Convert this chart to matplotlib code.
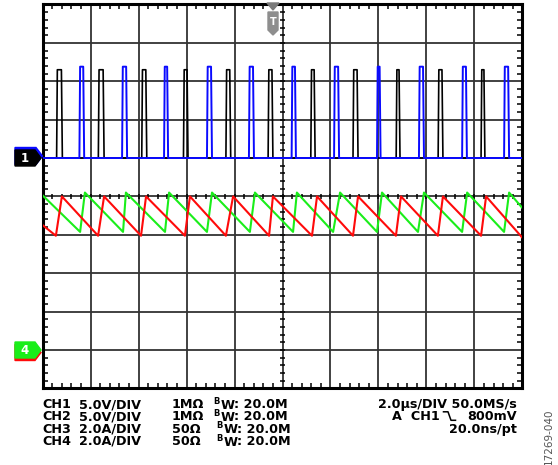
import matplotlib
matplotlib.use("Agg")
import matplotlib.pyplot as plt
from matplotlib.ticker import MultipleLocator
from matplotlib.patches import Polygon

plt.rcParams['font.family'] = ['DejaVu Sans']

# scope settings
us_per_div = 2.0
n_div = 10
ch12_scale, ch12_offset = 5.0, 1.0     # V/div, ground level in divisions
ch34_scale, ch34_offset = 2.0, -4.0    # A/div, zero level in divisions

# CH1 (black) switch pulses, rise/fall times in us, level in V
ch1_on = [0.58, 2.32, 4.13, 5.87, 7.64, 9.40, 11.18, 12.94, 14.74, 16.49, 18.28]
ch1_off = [0.82, 2.56, 4.34, 6.06, 7.84, 9.60, 11.36, 13.15, 14.90, 16.69, 18.44]
ch1_high = 11.5

# CH2 (blue) switch pulses
ch2_on = [1.53, 3.31, 5.06, 6.85, 8.60, 10.38, 12.15, 13.94, 15.69, 17.49, 19.24]
ch2_off = [1.73, 3.52, 5.23, 7.06, 8.81, 10.56, 12.36, 14.09, 15.90, 17.69, 19.45]
ch2_high = 11.9

# CH3 (red) inductor current: trough / peak times (us) and levels (A)
ch3_trough_t = [0.55, 2.31, 4.10, 5.93, 7.64, 9.44, 11.23, 12.94, 14.73, 16.48, 18.28]
ch3_peak_t = [0.80, 2.56, 4.31, 6.14, 7.94, 9.60, 11.44, 13.15, 14.94, 16.69, 18.49]
ch3_trough, ch3_peak = 5.95, 8.0
ch3_start, ch3_end = 6.5, 5.85

# CH4 (green) inductor current
ch4_trough_t = [1.56, 3.35, 5.10, 6.85, 8.64, 10.44, 12.11, 13.94, 15.65, 17.49, 19.24]
ch4_peak_t = [1.76, 3.47, 5.27, 7.06, 8.85, 10.60, 12.40, 14.15, 15.90, 17.70, 19.45]
ch4_trough, ch4_peak = 6.15, 8.2
ch4_start, ch4_end = 8.05, 7.4

# readout text
chan = ['CH1', 'CH2', 'CH3', 'CH4']
vdiv = ['5.0V/DIV', '5.0V/DIV', '2.0A/DIV', '2.0A/DIV']
imped = ['1MΩ', '1MΩ', '50Ω', '50Ω']
bw = [': 20.0M'] * 4
timebase = '2.0µs/DIV 50.0MS/s'
trig_src, trig_lvl = 'A  CH1', '800mV'
resolution = '20.0ns/pt'

t_end = us_per_div * n_div


def pulse_trace(on, off, high):
    t, v = [0.0], [0.0]
    for a, b in zip(on, off):
        t += [a, a + 0.03, b - 0.04, b]
        v += [0.0, high, high, 0.0]
    t.append(t_end)
    v.append(0.0)
    return t, v


def saw_trace(trough_t, peak_t, lo, hi, start, end):
    pts = [(0.0, start)] + [(x, lo) for x in trough_t] + [(x, hi) for x in peak_t] + [(t_end, end)]
    pts.sort()
    return [p[0] for p in pts], [p[1] for p in pts]


fig = plt.figure(figsize=(5.58, 4.65), dpi=100)
W, H = 558, 465
x0, x1, y0, y1 = 42.7, 522.3, 4.5, 388.3
ax = fig.add_axes([x0 / W, 1 - y1 / H, (x1 - x0) / W, (y1 - y0) / H])
ax.set_xlim(0, t_end)
ax.set_ylim(-5, 5)

grid_col = '#333333'
ax.xaxis.set_major_locator(MultipleLocator(us_per_div))
ax.yaxis.set_major_locator(MultipleLocator(1))
ax.xaxis.set_minor_locator(MultipleLocator(us_per_div / 5))
ax.yaxis.set_minor_locator(MultipleLocator(0.2))
ax.grid(True, which='major', color=grid_col, lw=1.3)
ax.tick_params(which='major', length=0, labelbottom=False, labelleft=False)
ax.tick_params(which='minor', direction='in', length=3.6, width=1.1, color='black',
               top=True, right=True, bottom=True, left=True)
for s in ax.spines.values():
    s.set_linewidth(2.2)
    s.set_color('black')

# ticks on the centre cross
minor_x = [i * us_per_div / 5 for i in range(1, 50)]
minor_y = [-5 + i * 0.2 for i in range(1, 50)]
ax.vlines(minor_x, -0.065, 0.065, color='black', lw=1.1, zorder=2)
ax.hlines(minor_y, t_end / 2 - 0.1, t_end / 2 + 0.1, color='black', lw=1.1, zorder=2)

# traces
t, v = pulse_trace(ch1_on, ch1_off, ch1_high)
ax.plot(t, [ch12_offset + x / ch12_scale for x in v], color='black', lw=1.2, zorder=3)
t, v = pulse_trace(ch2_on, ch2_off, ch2_high)
ax.plot(t, [ch12_offset + x / ch12_scale for x in v], color='#0a0aff', lw=1.4, zorder=4)
t, i = saw_trace(ch4_trough_t, ch4_peak_t, ch4_trough, ch4_peak, ch4_start, ch4_end)
ax.plot(t, [ch34_offset + x / ch34_scale for x in i], color='#1aee1a', lw=1.5, zorder=3)
t, i = saw_trace(ch3_trough_t, ch3_peak_t, ch3_trough, ch3_peak, ch3_start, ch3_end)
ax.plot(t, [ch34_offset + x / ch34_scale for x in i], color='#ff0a0a', lw=1.5, zorder=4)

# overlay in pixel coordinates for markers and text
ov = fig.add_axes([0, 0, 1, 1], zorder=10)
ov.set_xlim(0, W)
ov.set_ylim(H, 0)
ov.axis('off')
ov.patch.set_alpha(0)

ov.add_patch(Polygon([(15, 147.5), (36, 147.5), (42.5, 156), (36, 164.5), (15, 164.5)], color='#0a0aff'))
ov.add_patch(Polygon([(15, 150), (35, 150), (41, 158), (35, 166), (15, 166)], color='black'))
ov.text(25, 158.5, '1', color='white', fontsize=8.5, fontweight='bold', ha='center', va='center')
ov.add_patch(Polygon([(15, 344.5), (35, 344.5), (41, 352.5), (35, 360.5), (15, 360.5)], color='#ff0a0a'))
ov.add_patch(Polygon([(15, 342), (35, 342), (41, 350), (35, 358), (15, 358)], color='#1aee1a'))
ov.text(25, 350.5, '4', color='white', fontsize=8.5, fontweight='bold', ha='center', va='center')

ov.add_patch(Polygon([(267, 3), (279, 3), (273, 10)], color='#7a7a7a'))
ov.add_patch(Polygon([(268, 12), (278, 12), (278, 30), (273, 35), (268, 30)], color='#8e8e8e'))
ov.text(273, 22, 'T', color='white', fontsize=7, fontweight='bold', ha='center', va='center')

b_x = [213, 213, 216, 216]
rows = [408, 420.3, 432.6, 444.9]
fs = 9.2
for k in range(4):
    y = rows[k]
    ov.text(42, y, chan[k], fontsize=fs, fontweight='bold', va='baseline')
    ov.text(79.3, y, vdiv[k], fontsize=fs, fontweight='bold', va='baseline')
    ov.text(172, y, imped[k], fontsize=fs, fontweight='bold', va='baseline')
    ov.text(b_x[k], y - 4.2, 'B', fontsize=6, fontweight='bold', va='baseline')
    ov.text(b_x[k] + 7.5, y + 0.8, 'W', fontsize=fs, fontweight='bold', va='baseline')
    ov.text(b_x[k] + 21, y, bw[k], fontsize=fs, fontweight='bold', va='baseline')

ov.text(517, rows[0], timebase, fontsize=fs, fontweight='bold', ha='right', va='baseline')
ov.text(517, rows[1], trig_lvl, fontsize=fs, fontweight='bold', ha='right', va='baseline')
ov.text(440, rows[1], trig_src, fontsize=fs, fontweight='bold', ha='right', va='baseline')
ov.plot([443.5, 448, 451, 455.5], [rows[1] - 8.5, rows[1] - 8.5, rows[1], rows[1]],
        color='black', lw=1.1)
ov.text(517, rows[2], resolution, fontsize=fs, fontweight='bold', ha='right', va='baseline')

ov.text(549, 437, '17269-040', fontsize=7.5, color='#555555', rotation=90, ha='center', va='center')

fig.savefig('out.png', dpi=100)
